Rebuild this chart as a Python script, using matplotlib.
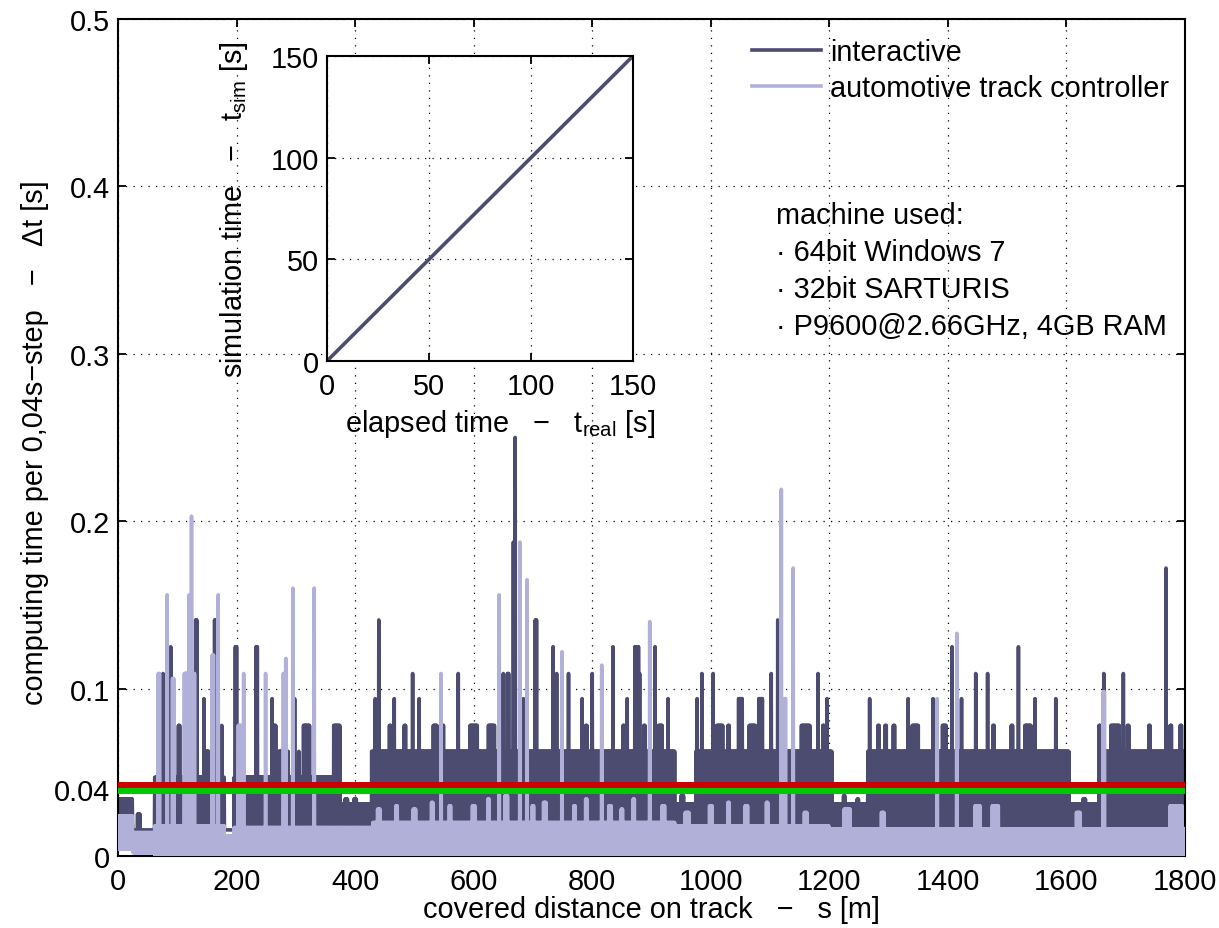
import numpy as np
import matplotlib
matplotlib.use("Agg")
import matplotlib.pyplot as plt

plt.rcParams['font.family'] = ['Liberation Sans', 'DejaVu Sans']
plt.rcParams['mathtext.default'] = 'regular'

# ---- data (values in s, positions in m) ----
# interactive: band segments (start, end, low level, high level)
inter_seg_start = [0, 25, 62, 180, 196, 362, 428, 940, 975, 1205, 1265, 1605, 1655]
inter_seg_end = [25, 62, 180, 196, 362, 428, 940, 975, 1205, 1265, 1605, 1655, 1800]
inter_seg_lo = [0.020, 0.0156, 0.0156, 0.0156, 0.0156, 0.0156, 0.0156, 0.0156, 0.0156, 0.0156, 0.0156, 0.0156, 0.0156]
inter_seg_hi = [0.034, 0.0156, 0.047, 0.0156, 0.047, 0.031, 0.0625, 0.031, 0.0625, 0.031, 0.0625, 0.031, 0.0625]
# interactive: peaks (position, value, width)
inter_peak_x = [35, 76, 89, 103, 115, 132, 145, 150, 164, 175, 199, 234, 260, 263, 275, 285, 298, 305,
                318, 369, 385, 400, 434, 440, 447, 459, 466, 484, 497, 508, 515, 535, 548, 560, 574,
                585, 600, 615, 630, 650, 658, 668, 670, 684, 705, 734, 740, 760, 768, 783, 790, 800,
                835, 843, 853, 859, 875, 880, 888, 906, 915, 928, 935, 952, 977, 985, 993, 1004, 1015,
                1030, 1050, 1057, 1070, 1084, 1102, 1113, 1160, 1181, 1190, 1196, 1225, 1248, 1268,
                1283, 1295, 1309, 1333, 1345, 1375, 1394, 1407, 1423, 1433, 1447, 1467, 1477, 1488,
                1508, 1519, 1535, 1547, 1558, 1572, 1582, 1595, 1602, 1630, 1656, 1663, 1682, 1696,
                1704, 1715, 1740, 1768, 1776, 1793]
inter_peak_v = [0.025, 0.109, 0.125, 0.078, 0.109, 0.141, 0.094, 0.0625, 0.141, 0.078, 0.125, 0.125,
                0.094, 0.078, 0.0625, 0.0625, 0.094, 0.0625, 0.078, 0.078, 0.034, 0.034, 0.094, 0.141,
                0.0625, 0.078, 0.094, 0.078, 0.109, 0.094, 0.0625, 0.078, 0.078, 0.0625, 0.109, 0.0625,
                0.078, 0.0625, 0.078, 0.109, 0.109, 0.1875, 0.25, 0.094, 0.141, 0.125, 0.109, 0.109,
                0.0625, 0.094, 0.078, 0.109, 0.125, 0.0625, 0.078, 0.094, 0.125, 0.109, 0.078, 0.125,
                0.078, 0.094, 0.0625, 0.036, 0.094, 0.109, 0.0625, 0.109, 0.078, 0.078, 0.094, 0.0625,
                0.078, 0.094, 0.109, 0.141, 0.078, 0.109, 0.078, 0.094, 0.036, 0.034, 0.094, 0.078,
                0.078, 0.078, 0.094, 0.078, 0.094, 0.078, 0.125, 0.094, 0.0625, 0.109, 0.109, 0.078,
                0.0625, 0.078, 0.125, 0.078, 0.094, 0.0625, 0.0625, 0.094, 0.0625, 0.0625, 0.034,
                0.078, 0.109, 0.078, 0.109, 0.078, 0.0625, 0.078, 0.172, 0.078, 0.078]
inter_peak_w = [4, 1, 1, 2, 2, 2, 1, 6, 2, 1, 3, 2, 1, 6, 8, 4, 1, 1, 10, 10, 4, 4, 1, 1, 2, 2, 1, 3,
                1, 1, 2, 6, 2, 6, 1, 2, 12, 2, 10, 1, 2, 2, 1, 1, 2, 1, 1, 1, 2, 1, 2, 1, 1, 2, 2, 1,
                6, 1, 2, 1, 6, 1, 1, 4, 1, 1, 2, 1, 10, 2, 6, 2, 10, 6, 1, 1, 15, 1, 3, 1, 3, 3, 1, 3,
                3, 3, 1, 10, 1, 6, 1, 1, 2, 1, 1, 2, 2, 2, 1, 10, 1, 2, 2, 1, 2, 2, 4, 2, 1, 15, 1, 2,
                2, 2, 1, 2, 2]

# automotive track controller: band segments and peaks
auto_seg_start = [0, 25, 62, 180, 196, 430, 940, 1200]
auto_seg_end = [25, 62, 180, 196, 430, 940, 1200, 1800]
auto_seg_lo = [0.004, 0.002, 0.0, 0.0, 0.0, 0.0, 0.0, 0.0]
auto_seg_hi = [0.024, 0.014, 0.018, 0.012, 0.017, 0.020, 0.018, 0.016]
auto_peak_x = [69, 83, 93, 113, 120, 124, 127, 160, 169, 205, 212, 249, 280, 283, 295, 331, 440, 470,
               500, 530, 545, 560, 600, 625, 643, 655, 678, 690, 700, 720, 749, 770, 790, 816, 830,
               850, 870, 897, 920, 960, 1000, 1030, 1060, 1095, 1119, 1125, 1139, 1160, 1230, 1290,
               1382, 1415, 1450, 1480, 1620, 1663, 1785]
auto_peak_v = [0.109, 0.156, 0.106, 0.109, 0.156, 0.203, 0.109, 0.120, 0.156, 0.078, 0.109, 0.109,
               0.109, 0.118, 0.160, 0.160, 0.028, 0.030, 0.028, 0.032, 0.109, 0.030, 0.030, 0.034,
               0.156, 0.036, 0.1875, 0.165, 0.030, 0.032, 0.122, 0.030, 0.034, 0.114, 0.030, 0.028,
               0.034, 0.140, 0.030, 0.026, 0.030, 0.032, 0.030, 0.032, 0.219, 0.094, 0.172, 0.026,
               0.028, 0.026, 0.094, 0.133, 0.030, 0.030, 0.026, 0.098, 0.030]
auto_peak_w = [3, 1, 2, 2, 1, 1, 4, 3, 1, 5, 1, 1, 3, 1, 1, 1, 4, 3, 4, 3, 1, 3, 4, 3, 1, 4, 1, 1, 3,
               4, 1, 3, 3, 1, 4, 3, 3, 1, 4, 6, 4, 3, 4, 3, 1, 3, 1, 4, 10, 4, 1, 1, 8, 10, 6, 3, 20]

# limit lines
limit_red = 0.0424
limit_green = 0.0388

# inset: simulation time vs elapsed time
t_real = [0, 150]
t_sim = [0, 150]

# ---- build the traces (sampled every 0.5 m, alternating low/high within a band) ----
s = np.arange(0, 1800.5, 0.5)
hi_phase = (np.arange(len(s)) % 2 == 0)


def trace(seg_start, seg_end, seg_lo, seg_hi, px, pv, pw):
    y = np.zeros_like(s)
    for a, b, lo, hi in zip(seg_start, seg_end, seg_lo, seg_hi):
        m = (s >= a) & (s <= b)
        y[m] = np.where(hi_phase[m], hi, lo)
    for x, v, w in zip(px, pv, pw):
        m = (np.abs(s - x) <= w / 2) & hi_phase
        y[m] = np.maximum(y[m], v)
    return y


inter = trace(inter_seg_start, inter_seg_end, inter_seg_lo, inter_seg_hi,
              inter_peak_x, inter_peak_v, inter_peak_w)
auto = trace(auto_seg_start, auto_seg_end, auto_seg_lo, auto_seg_hi,
             auto_peak_x, auto_peak_v, auto_peak_w)

dark = '#4c4c70'
light = '#b0b0d8'
fs = 20.8
W, H = 1219, 929

fig = plt.figure(figsize=(W / 100, H / 100), dpi=100)
ax = fig.add_axes([118 / W, 1 - 857 / H, (1185 - 118) / W, (857 - 20) / H])

ax.plot(s, inter, color=dark, lw=2.6, label='interactive', zorder=2)
ax.plot(s, auto, color=light, lw=2.6, label='automotive track controller', zorder=3)
ax.axhline(limit_green, color='#00c800', lw=4.3, zorder=4)
ax.axhline(limit_red, color='#cc0000', lw=4.3, zorder=4)

ax.set_xlim(0, 1800)
ax.set_ylim(0, 0.5)
ax.set_xticks(np.arange(0, 1801, 200))
ax.set_yticks([0, 0.04, 0.1, 0.2, 0.3, 0.4, 0.5])
ax.set_yticklabels(['0', '0.04', '0.1', '0.2', '0.3', '0.4', '0.5'])
ax.grid(True, color='black', linestyle=(0, (1, 5)), lw=0.9)
ax.tick_params(direction='in', length=6, width=1.3, labelsize=fs, top=True, right=True)
ax.tick_params(axis='x', pad=8)
ax.tick_params(axis='y', pad=6)
for sp in ax.spines.values():
    sp.set_linewidth(1.5)

ax.set_xlabel('covered distance on track   \u2212   s [m]', fontsize=fs)
ax.set_ylabel('computing time per 0,04s\u2212step   \u2212   \u0394t [s]', fontsize=fs)
ax.xaxis.set_label_coords(0.5, -0.047)
ax.yaxis.set_label_coords(-0.065, 0.495)

leg = ax.legend(loc='upper left', bbox_to_anchor=(752 / W, 1 - 39 / H),
                bbox_transform=fig.transFigure, frameon=False, fontsize=fs,
                handlelength=2.4, handletextpad=0.3, borderpad=0, borderaxespad=0,
                labelspacing=0.28)

info = ['machine used:', '\u00b7 64bit Windows 7', '\u00b7 32bit SARTURIS',
        '\u00b7 P9600@2.66GHz, 4GB RAM']
for i, line in enumerate(info):
    fig.text(776 / W, 1 - (224 + 37 * i) / H, line, fontsize=fs, va='baseline', ha='left')

# inset
ins = fig.add_axes([327 / W, 1 - 362 / H, (633 - 327) / W, (362 - 57) / H])
ins.set_facecolor('white')
ins.plot(t_real, t_sim, color=dark, lw=2.6)
ins.set_xlim(0, 150)
ins.set_ylim(0, 150)
ins.set_xticks([0, 50, 100, 150])
ins.set_yticks([0, 50, 100, 150])
ins.grid(True, color='black', linestyle=(0, (1, 5)), lw=0.9)
ins.tick_params(direction='in', length=6, width=1.3, labelsize=fs, top=True, right=True)
ins.tick_params(axis='x', pad=8)
ins.tick_params(axis='y', pad=6)
for sp in ins.spines.values():
    sp.set_linewidth(1.5)
ins.set_xlabel('elapsed time   \u2212   $t_{real}$ [s]', fontsize=fs)
ins.set_ylabel('simulation time   \u2212   $t_{sim}$ [s]', fontsize=fs)
ins.xaxis.set_label_coords(0.565, -0.15)
ins.yaxis.set_label_coords(-0.25, 0.5)

fig.savefig('out.png', dpi=100)
